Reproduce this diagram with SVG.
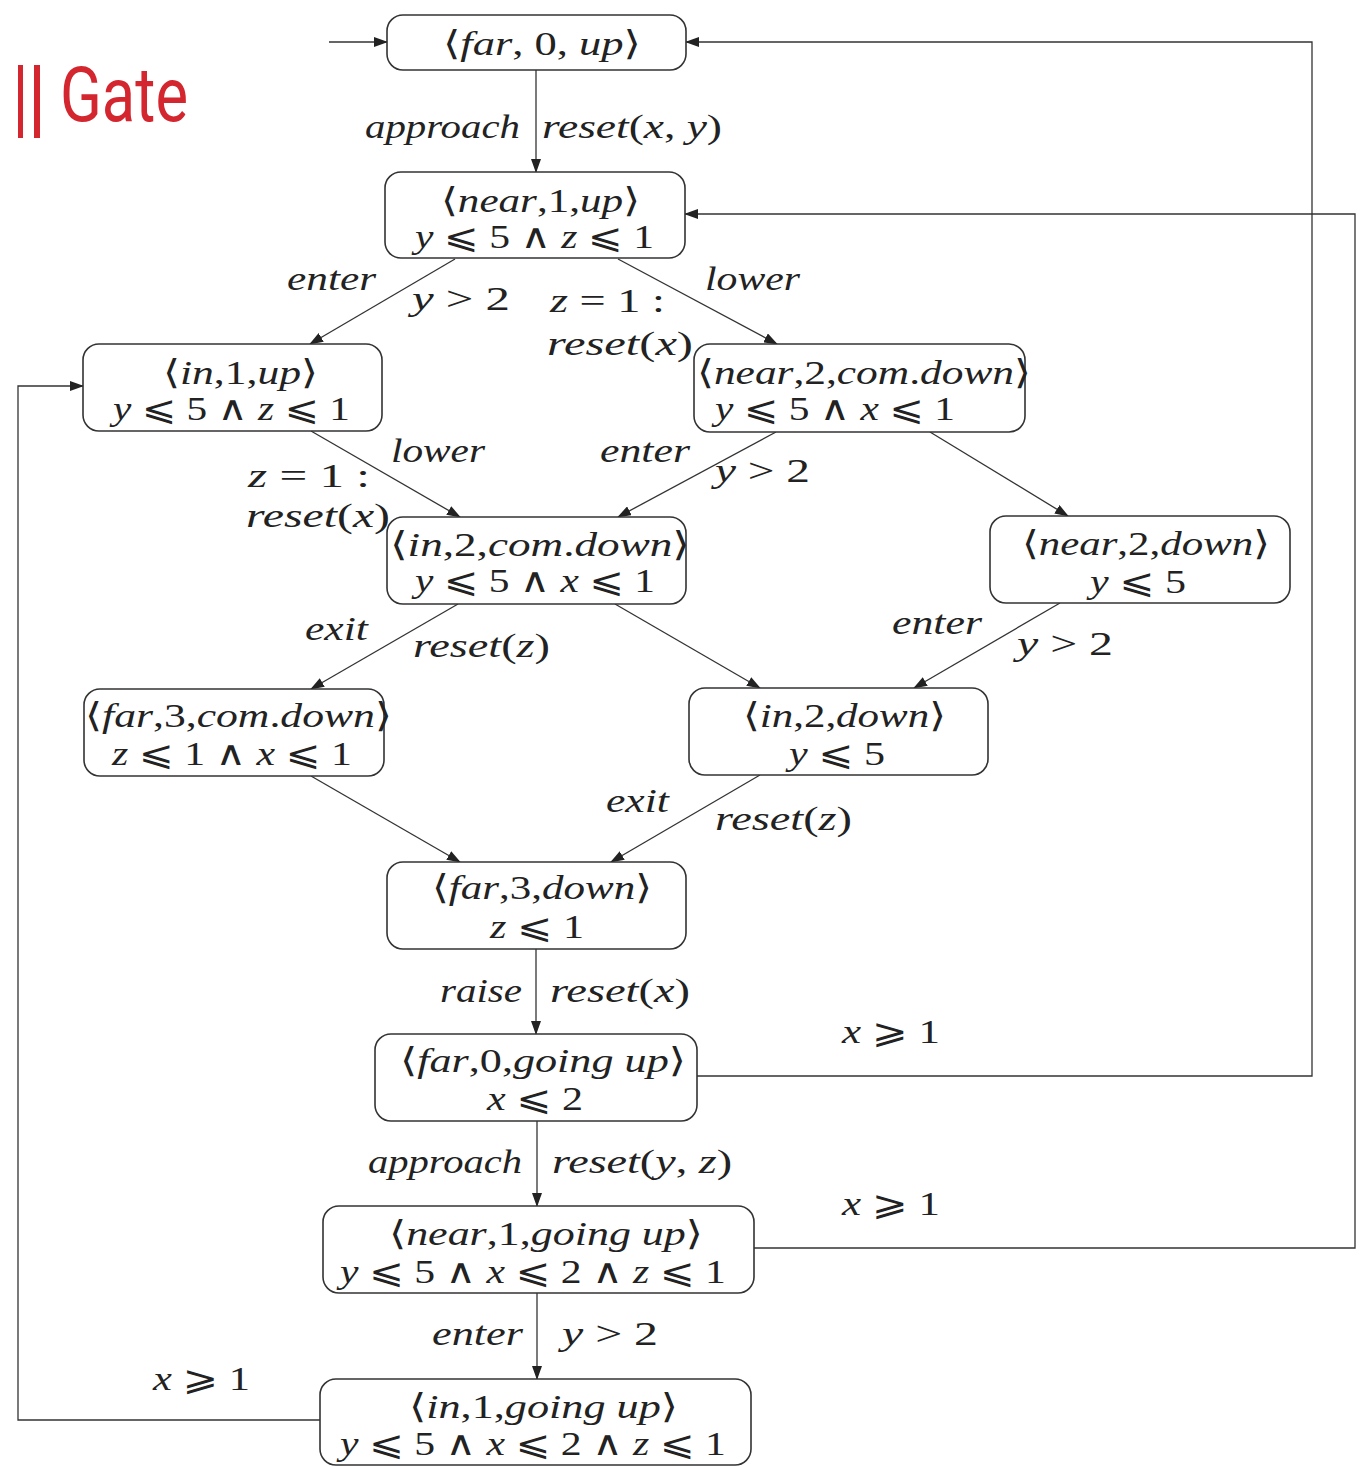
<svg xmlns="http://www.w3.org/2000/svg" width="1363" height="1466" viewBox="0 0 1363 1466">
<style>
.bg{fill:#fff}
.n rect{fill:#fff;stroke:#333;stroke-width:1.6}
.e{fill:none;stroke:#333;stroke-width:1.3}
.m{font-family:"Liberation Serif","DejaVu Serif","DejaVu Sans",serif;font-size:34px;font-style:italic;fill:#222}
.u{font-style:normal}
.gate{font-family:Roboto,"Liberation Sans",sans-serif;font-size:76px;fill:#d3262e}
</style>
<defs>
<marker id="ah" markerWidth="14" markerHeight="10" refX="13" refY="5" orient="auto" markerUnits="userSpaceOnUse"><path d="M0,0 L14,5 L0,10 z" fill="#222"/></marker>
</defs>
<rect class="bg" width="1363" height="1466"/>
<g id="title">
<rect x="18" y="65" width="5" height="73" fill="#d3262e"/>
<rect x="34" y="65" width="6" height="73" fill="#d3262e"/>
<text class="gate" x="60" y="121" textLength="128" lengthAdjust="spacingAndGlyphs">Gate</text>
</g>
<g id="connectors">
<line class="e" x1="329" y1="42" x2="387" y2="42" marker-end="url(#ah)"/>
<line class="e" x1="536" y1="70" x2="536" y2="172" marker-end="url(#ah)"/>
<line class="e" x1="455" y1="259" x2="310" y2="344" marker-end="url(#ah)"/>
<line class="e" x1="618" y1="259" x2="777" y2="344" marker-end="url(#ah)"/>
<line class="e" x1="311" y1="431" x2="460" y2="517" marker-end="url(#ah)"/>
<line class="e" x1="776" y1="432" x2="618" y2="517" marker-end="url(#ah)"/>
<line class="e" x1="930" y1="432" x2="1068" y2="516" marker-end="url(#ah)"/>
<line class="e" x1="458" y1="604" x2="311" y2="689" marker-end="url(#ah)"/>
<line class="e" x1="615" y1="604" x2="760" y2="688" marker-end="url(#ah)"/>
<line class="e" x1="1060" y1="603" x2="914" y2="688" marker-end="url(#ah)"/>
<line class="e" x1="311" y1="776" x2="460" y2="862" marker-end="url(#ah)"/>
<line class="e" x1="760" y1="775" x2="611" y2="862" marker-end="url(#ah)"/>
<line class="e" x1="536" y1="949" x2="536" y2="1034" marker-end="url(#ah)"/>
<polyline class="e" points="697,1076 1312,1076 1312,42 686,42" marker-end="url(#ah)"/>
<line class="e" x1="537" y1="1121" x2="537" y2="1206" marker-end="url(#ah)"/>
<polyline class="e" points="754,1248 1355,1248 1355,214 685,214" marker-end="url(#ah)"/>
<line class="e" x1="537" y1="1293" x2="537" y2="1379" marker-end="url(#ah)"/>
<polyline class="e" points="320,1420 18,1420 18,386 83,386" marker-end="url(#ah)"/>
</g>
<g id="edge-labels">
<text class="m" x="365" y="138" textLength="155" lengthAdjust="spacingAndGlyphs">approach</text>
<text class="m" x="542" y="138" textLength="180" lengthAdjust="spacingAndGlyphs">reset<tspan class="u">(</tspan>x<tspan class="u">,</tspan> y<tspan class="u">)</tspan></text>
<text class="m" x="287" y="290" textLength="89" lengthAdjust="spacingAndGlyphs">enter</text>
<text class="m" x="412" y="310" textLength="98" lengthAdjust="spacingAndGlyphs">y <tspan class="u">&gt; 2</tspan></text>
<text class="m" x="705" y="290" textLength="95" lengthAdjust="spacingAndGlyphs">lower</text>
<text class="m" x="550" y="312" textLength="115" lengthAdjust="spacingAndGlyphs">z <tspan class="u">= 1 :</tspan></text>
<text class="m" x="547" y="355" textLength="146" lengthAdjust="spacingAndGlyphs">reset<tspan class="u">(</tspan>x<tspan class="u">)</tspan></text>
<text class="m" x="391" y="462" textLength="94" lengthAdjust="spacingAndGlyphs">lower</text>
<text class="m" x="248" y="487" textLength="122" lengthAdjust="spacingAndGlyphs">z <tspan class="u">= 1 :</tspan></text>
<text class="m" x="246" y="527" textLength="144" lengthAdjust="spacingAndGlyphs">reset<tspan class="u">(</tspan>x<tspan class="u">)</tspan></text>
<text class="m" x="600" y="462" textLength="90" lengthAdjust="spacingAndGlyphs">enter</text>
<text class="m" x="715" y="482" textLength="95" lengthAdjust="spacingAndGlyphs">y <tspan class="u">&gt; 2</tspan></text>
<text class="m" x="305" y="640" textLength="63" lengthAdjust="spacingAndGlyphs">exit</text>
<text class="m" x="413" y="657" textLength="137" lengthAdjust="spacingAndGlyphs">reset<tspan class="u">(</tspan>z<tspan class="u">)</tspan></text>
<text class="m" x="892" y="634" textLength="90" lengthAdjust="spacingAndGlyphs">enter</text>
<text class="m" x="1017" y="655" textLength="96" lengthAdjust="spacingAndGlyphs">y <tspan class="u">&gt; 2</tspan></text>
<text class="m" x="606" y="812" textLength="63" lengthAdjust="spacingAndGlyphs">exit</text>
<text class="m" x="715" y="830" textLength="137" lengthAdjust="spacingAndGlyphs">reset<tspan class="u">(</tspan>z<tspan class="u">)</tspan></text>
<text class="m" x="440" y="1002" textLength="82" lengthAdjust="spacingAndGlyphs">raise</text>
<text class="m" x="550" y="1002" textLength="140" lengthAdjust="spacingAndGlyphs">reset<tspan class="u">(</tspan>x<tspan class="u">)</tspan></text>
<text class="m" x="842" y="1043" textLength="98" lengthAdjust="spacingAndGlyphs">x <tspan class="u">⩾ 1</tspan></text>
<text class="m" x="368" y="1173" textLength="154" lengthAdjust="spacingAndGlyphs">approach</text>
<text class="m" x="552" y="1173" textLength="180" lengthAdjust="spacingAndGlyphs">reset<tspan class="u">(</tspan>y<tspan class="u">,</tspan> z<tspan class="u">)</tspan></text>
<text class="m" x="842" y="1215" textLength="98" lengthAdjust="spacingAndGlyphs">x <tspan class="u">⩾ 1</tspan></text>
<text class="m" x="432" y="1345" textLength="91" lengthAdjust="spacingAndGlyphs">enter</text>
<text class="m" x="562" y="1345" textLength="96" lengthAdjust="spacingAndGlyphs">y <tspan class="u">&gt; 2</tspan></text>
<text class="m" x="153" y="1390" textLength="97" lengthAdjust="spacingAndGlyphs">x <tspan class="u">⩾ 1</tspan></text>
</g>
<g id="far-0-up" class="n">
<rect x="387" y="15" width="299" height="55" rx="16"/>
<text class="m" x="443" y="55" textLength="198" lengthAdjust="spacingAndGlyphs"><tspan class="u">⟨</tspan>far<tspan class="u">,</tspan> <tspan class="u">0,</tspan> up<tspan class="u">⟩</tspan></text>
</g>
<g id="near-1-up" class="n">
<rect x="385" y="172" width="300" height="86" rx="16"/>
<text class="m" x="441" y="212" textLength="199" lengthAdjust="spacingAndGlyphs"><tspan class="u">⟨</tspan>near<tspan class="u">,1,</tspan>up<tspan class="u">⟩</tspan></text>
<text class="m" x="415" y="248" textLength="239" lengthAdjust="spacingAndGlyphs">y <tspan class="u">⩽ 5 ∧</tspan> z <tspan class="u">⩽ 1</tspan></text>
</g>
<g id="in-1-up" class="n">
<rect x="83" y="344" width="299" height="87" rx="16"/>
<text class="m" x="163" y="384" textLength="155" lengthAdjust="spacingAndGlyphs"><tspan class="u">⟨</tspan>in<tspan class="u">,1,</tspan>up<tspan class="u">⟩</tspan></text>
<text class="m" x="113" y="420" textLength="237" lengthAdjust="spacingAndGlyphs">y <tspan class="u">⩽ 5 ∧</tspan> z <tspan class="u">⩽ 1</tspan></text>
</g>
<g id="near-2-comdown" class="n">
<rect x="694" y="344" width="331" height="88" rx="16"/>
<text class="m" x="697" y="384" textLength="334" lengthAdjust="spacingAndGlyphs"><tspan class="u">⟨</tspan>near<tspan class="u">,2,</tspan>com<tspan class="u">.</tspan>down<tspan class="u">⟩</tspan></text>
<text class="m" x="715" y="420" textLength="240" lengthAdjust="spacingAndGlyphs">y <tspan class="u">⩽ 5 ∧</tspan> x <tspan class="u">⩽ 1</tspan></text>
</g>
<g id="in-2-comdown" class="n">
<rect x="387" y="517" width="299" height="87" rx="16"/>
<text class="m" x="390" y="556" textLength="300" lengthAdjust="spacingAndGlyphs"><tspan class="u">⟨</tspan>in<tspan class="u">,2,</tspan>com<tspan class="u">.</tspan>down<tspan class="u">⟩</tspan></text>
<text class="m" x="415" y="592" textLength="240" lengthAdjust="spacingAndGlyphs">y <tspan class="u">⩽ 5 ∧</tspan> x <tspan class="u">⩽ 1</tspan></text>
</g>
<g id="near-2-down" class="n">
<rect x="990" y="516" width="300" height="87" rx="16"/>
<text class="m" x="1022" y="555" textLength="248" lengthAdjust="spacingAndGlyphs"><tspan class="u">⟨</tspan>near<tspan class="u">,2,</tspan>down<tspan class="u">⟩</tspan></text>
<text class="m" x="1090" y="593" textLength="96" lengthAdjust="spacingAndGlyphs">y <tspan class="u">⩽ 5</tspan></text>
</g>
<g id="far-3-comdown" class="n">
<rect x="84" y="689" width="300" height="87" rx="16"/>
<text class="m" x="85" y="727" textLength="307" lengthAdjust="spacingAndGlyphs"><tspan class="u">⟨</tspan>far<tspan class="u">,3,</tspan>com<tspan class="u">.</tspan>down<tspan class="u">⟩</tspan></text>
<text class="m" x="112" y="765" textLength="240" lengthAdjust="spacingAndGlyphs">z <tspan class="u">⩽ 1 ∧</tspan> x <tspan class="u">⩽ 1</tspan></text>
</g>
<g id="in-2-down" class="n">
<rect x="689" y="688" width="299" height="87" rx="16"/>
<text class="m" x="743" y="727" textLength="203" lengthAdjust="spacingAndGlyphs"><tspan class="u">⟨</tspan>in<tspan class="u">,2,</tspan>down<tspan class="u">⟩</tspan></text>
<text class="m" x="789" y="765" textLength="96" lengthAdjust="spacingAndGlyphs">y <tspan class="u">⩽ 5</tspan></text>
</g>
<g id="far-3-down" class="n">
<rect x="387" y="862" width="299" height="87" rx="16"/>
<text class="m" x="432" y="899" textLength="220" lengthAdjust="spacingAndGlyphs"><tspan class="u">⟨</tspan>far<tspan class="u">,3,</tspan>down<tspan class="u">⟩</tspan></text>
<text class="m" x="490" y="938" textLength="94" lengthAdjust="spacingAndGlyphs">z <tspan class="u">⩽ 1</tspan></text>
</g>
<g id="far-0-goingup" class="n">
<rect x="375" y="1034" width="322" height="87" rx="16"/>
<text class="m" x="400" y="1072" textLength="286" lengthAdjust="spacingAndGlyphs"><tspan class="u">⟨</tspan>far<tspan class="u">,0,</tspan>going up<tspan class="u">⟩</tspan></text>
<text class="m" x="487" y="1110" textLength="96" lengthAdjust="spacingAndGlyphs">x <tspan class="u">⩽ 2</tspan></text>
</g>
<g id="near-1-goingup" class="n">
<rect x="323" y="1206" width="431" height="87" rx="16"/>
<text class="m" x="389" y="1245" textLength="314" lengthAdjust="spacingAndGlyphs"><tspan class="u">⟨</tspan>near<tspan class="u">,1,</tspan>going up<tspan class="u">⟩</tspan></text>
<text class="m" x="340" y="1283" textLength="386" lengthAdjust="spacingAndGlyphs">y <tspan class="u">⩽ 5 ∧</tspan> x <tspan class="u">⩽ 2 ∧</tspan> z <tspan class="u">⩽ 1</tspan></text>
</g>
<g id="in-1-goingup" class="n">
<rect x="320" y="1379" width="431" height="86" rx="16"/>
<text class="m" x="409" y="1418" textLength="269" lengthAdjust="spacingAndGlyphs"><tspan class="u">⟨</tspan>in<tspan class="u">,1,</tspan>going up<tspan class="u">⟩</tspan></text>
<text class="m" x="340" y="1455" textLength="386" lengthAdjust="spacingAndGlyphs">y <tspan class="u">⩽ 5 ∧</tspan> x <tspan class="u">⩽ 2 ∧</tspan> z <tspan class="u">⩽ 1</tspan></text>
</g>
</svg>
